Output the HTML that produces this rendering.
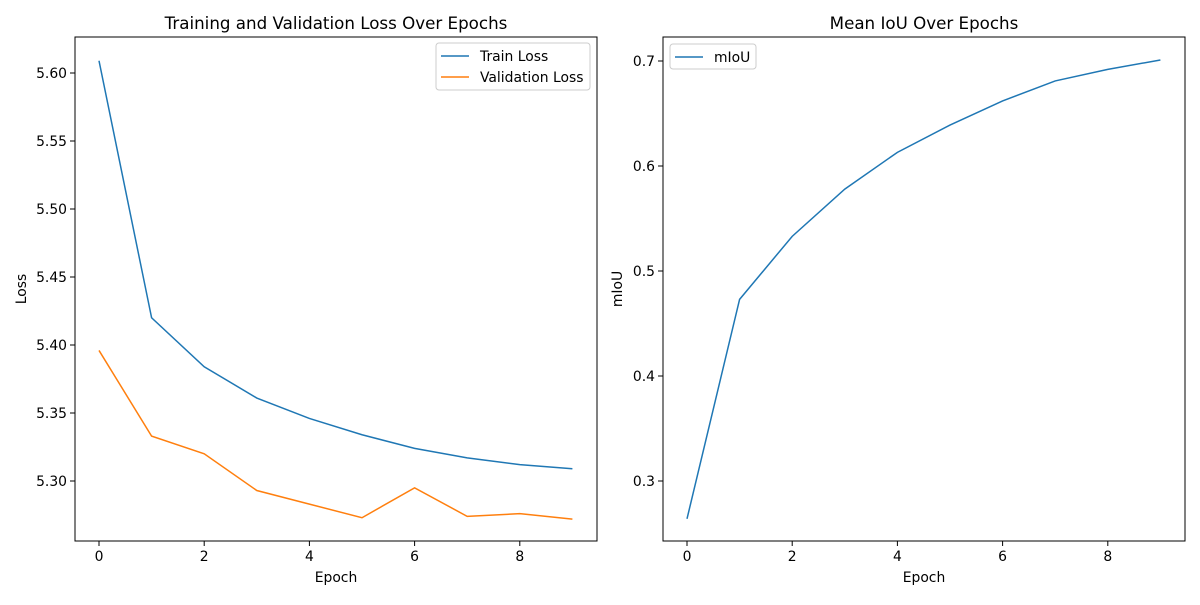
<!DOCTYPE html>
<html><head><meta charset="utf-8"><style>
body{margin:0;background:#fff;font-family:"Liberation Sans","DejaVu Sans",sans-serif}
svg text{font-family:"DejaVu Sans","Liberation Sans",sans-serif}
</style></head><body>
<svg id="c" width="1200" height="600" xmlns="http://www.w3.org/2000/svg"></svg>
<script>
const epochs=[0,1,2,3,4,5,6,7,8,9];
const trainLoss=[5.609,5.420,5.384,5.361,5.346,5.334,5.324,5.317,5.312,5.309];
const valLoss=[5.396,5.333,5.320,5.293,5.283,5.273,5.295,5.274,5.276,5.272];
const miou=[0.264,0.473,0.533,0.578,0.613,0.639,0.662,0.681,0.692,0.701];
const xTicks=[0,2,4,6,8];
const lossTicks=[5.30,5.35,5.40,5.45,5.50,5.55,5.60];
const miouTicks=[0.3,0.4,0.5,0.6,0.7];
const NS='http://www.w3.org/2000/svg';
const svg=document.getElementById('c');
function mk(t,a,txt){const e=document.createElementNS(NS,t);for(const k in a)e.setAttribute(k,a[k]);if(txt!=null)e.textContent=txt;svg.appendChild(e);return e;}
function panel(p){
  const {x0,x1,y0,y1,sx,sy,yT,fmt,title,ylab,series,legend,key}=p;
  const frame=mk('rect',{x:x0,y:y0,width:x1-x0,height:y1-y0,fill:'none',stroke:'#000','stroke-width':1});
  
  
  xTicks.forEach(v=>{const X=sx(v);
    const l=mk('line',{x1:X,x2:X,y1:y1,y2:y1+5,stroke:'#000'});
    
    
    const t=mk('text',{x:X,y:y1+20,'font-size':13.9,'text-anchor':'middle'},String(v));
    
    });
  yT.forEach(v=>{const Y=sy(v);
    const l=mk('line',{x1:x0-5,x2:x0,y1:Y,y2:Y,stroke:'#000'});
    
    
    const t=mk('text',{x:x0-8,y:Y+5,'font-size':13.9,'text-anchor':'end'},fmt(v));
    
    });
  const tt=mk('text',{x:(x0+x1)/2,y:y0-8,'font-size':16.7,'text-anchor':'middle'},title);
  
  
  const xl=mk('text',{x:(x0+x1)/2,y:y1+41,'font-size':13.9,'text-anchor':'middle'},'Epoch');
  
  
  const yl=mk('text',{x:0,y:0,'font-size':13.9,'text-anchor':'middle',transform:`translate(${p.ylx},${(y0+y1)/2}) rotate(-90)`},ylab);
  
  
  series.forEach(s=>{
    const pl=mk('polyline',{points:epochs.map((e,i)=>sx(e)+','+sy(s.d[i])).join(' '),fill:'none',stroke:s.c,'stroke-width':1.5});
    
    });
  const L=legend;
  const lb=mk('rect',{x:L.x,y:L.y,width:L.w,height:L.h,rx:3,fill:'#fff',stroke:'#ccc'});
  
  
  series.forEach((s,i)=>{const Y=L.y+13+i*21;
    const l=mk('line',{x1:L.x+5,x2:L.x+33,y1:Y,y2:Y,stroke:s.c,'stroke-width':1.5});
    
    
    const t=mk('text',{x:L.x+44,y:Y+5,'font-size':13.9},s.label);
    
    });
}
panel({key:'loss',x0:75,x1:597,y0:37,y1:541,
  sx:v=>99+v*52.6, sy:v=>481-(v-5.30)*1360, yT:lossTicks, fmt:v=>v.toFixed(2),
  title:'Training and Validation Loss Over Epochs', ylab:'Loss', ylx:26,
  series:[{d:trainLoss,c:'#1f77b4',n:'train-loss-line',label:'Train Loss'},{d:valLoss,c:'#ff7f0e',n:'validation-loss-line',label:'Validation Loss'}],
  legend:{x:436,y:43,w:154,h:47}});
panel({key:'miou',x0:663,x1:1185,y0:37,y1:541,
  sx:v=>687+v*52.6, sy:v=>481-(v-0.3)*1050, yT:miouTicks, fmt:v=>v.toFixed(1),
  title:'Mean IoU Over Epochs', ylab:'mIoU', ylx:622,
  series:[{d:miou,c:'#1f77b4',n:'miou-line',label:'mIoU'}],
  legend:{x:670,y:44,w:86,h:25}});
</script>
</body></html>
